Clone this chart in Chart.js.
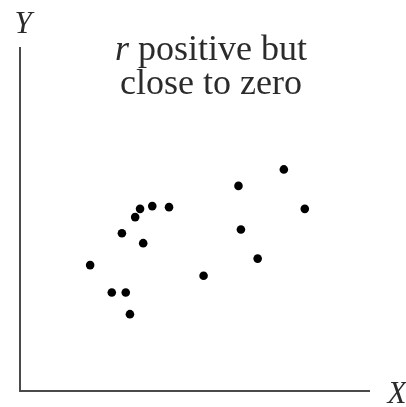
<!DOCTYPE html>
<html>
<head>
<meta charset="utf-8">
<script src="https://cdn.jsdelivr.net/npm/chart.js@4/dist/chart.umd.min.js"></script>
<style>
  html, body { margin: 0; padding: 0; background: #fff; }
  #wrap { width: 406px; height: 407px; }
</style>
</head>
<body>
<div id="wrap"><canvas id="chart" width="406" height="407"></canvas></div>
<script>
// scatter values (arbitrary 0..100 units)
const xVals = [20.1, 26.3, 30.3, 31.5, 29.2, 33.0, 34.4, 37.9, 42.7, 35.3, 52.6, 62.6, 63.3, 68.1, 75.6, 81.6];
const yVals = [36.7, 28.7, 28.7, 22.4, 46.0, 50.7, 53.1, 53.9, 53.6, 43.1, 33.6, 59.8, 47.1, 38.6, 64.6, 53.1];
const titleLines = ['positive but', 'close to zero'];
const AXIS = '#4a4a4a', INK = '#2b2b2b';
const SERIF = '"Liberation Serif"';

// axis letters + caption, drawn on the canvas after the chart
const labels = {
  id: 'labels',
  afterDraw(chart) {
    const c = chart.ctx, a = chart.chartArea;
    c.save();
    c.fillStyle = INK;
    c.textBaseline = 'alphabetic';
    c.font = `italic 31px ${SERIF}`;
    c.textAlign = 'center';
    c.fillText('Y', a.left + 3, 33);
    c.fillText('X', a.right + 28, a.bottom + 12);

    // first line: italic "r" then roman text, centred as a whole
    const cx = 211, fs = 36;
    c.font = `italic ${fs}px ${SERIF}`;
    const rw = c.measureText('r ').width;
    c.font = `${fs}px ${SERIF}`;
    const tw = c.measureText(titleLines[0]).width;
    const x0 = cx - (rw + tw) / 2;
    c.textAlign = 'left';
    c.font = `italic ${fs}px ${SERIF}`;
    c.fillText('r', x0, 60);
    c.font = `${fs}px ${SERIF}`;
    c.fillText(titleLines[0], x0 + rw, 60);
    c.textAlign = 'center';
    c.fillText(titleLines[1], cx, 94);
    c.restore();
  }
};

new Chart(document.getElementById('chart'), {
  type: 'scatter',
  data: {
    datasets: [{
      data: xVals.map((x, i) => ({ x, y: yVals[i] })),
      pointRadius: 4.3,
      pointBackgroundColor: '#000',
      pointBorderWidth: 0,
    }]
  },
  options: {
    responsive: false,
    animation: false,
    layout: { padding: { left: 20, right: 37, top: 48, bottom: 16 } },
    plugins: { legend: { display: false }, tooltip: { enabled: false } },
    scales: {
      x: {
        min: 0, max: 100,
        ticks: { display: false },
        grid: { display: false, drawTicks: false },
        border: { display: true, color: AXIS, width: 2 },
      },
      y: {
        min: 0, max: 100,
        ticks: { display: false },
        grid: { display: false, drawTicks: false },
        border: { display: true, color: AXIS, width: 2 },
      },
    },
  },
  plugins: [labels],
});
</script>
</body>
</html>
